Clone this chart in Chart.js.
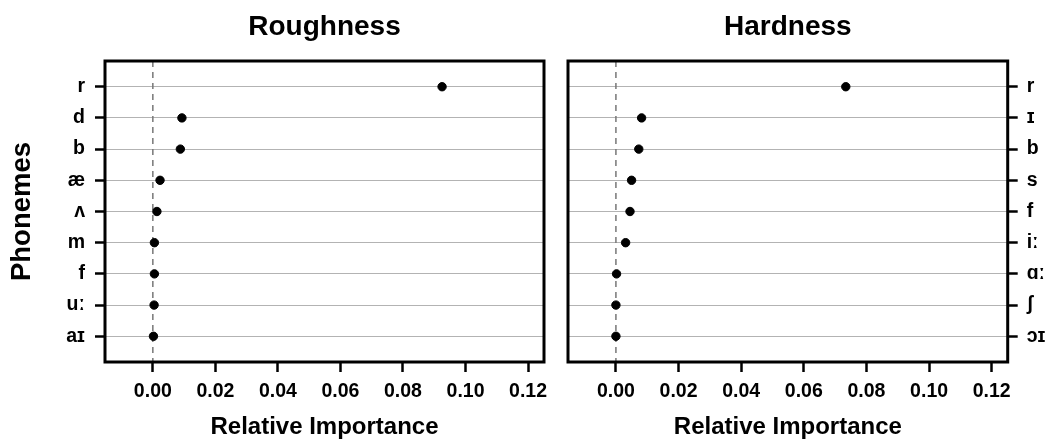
<!DOCTYPE html>
<html>
<head>
<meta charset="utf-8">
<script src="https://cdn.jsdelivr.net/npm/chart.js@4"></script>
<style>
  body { margin: 0; background: #fff; }
  #wrap { position: relative; width: 1048px; height: 439px; }
  canvas { position: absolute; top: 0; }
</style>
</head>
<body>
<div id="wrap">
  <canvas id="chart-roughness" width="560" height="439" style="left:0px"></canvas>
  <canvas id="chart-hardness" width="496" height="439" style="left:552px"></canvas>
</div>
<script>
const roughness_labels = ["r", "d", "b", "æ", "ʌ", "m", "f", "uː", "aɪ"];
const roughness_values = [0.0925, 0.0093, 0.0088, 0.0023, 0.0013, 0.0005, 0.0005, 0.0004, 0.0002];

const hardness_labels = ["r", "ɪ", "b", "s", "f", "iː", "ɑː", "ʃ", "ɔɪ"];
const hardness_values = [0.0734, 0.0082, 0.0073, 0.0050, 0.0045, 0.0031, 0.0002, 0.0000, 0.0000];

const x_ticks = [0, 0.02, 0.04, 0.06, 0.08, 0.10, 0.12];

const FONT = "'Liberation Sans', Arial, sans-serif";

// box round the panel + dashed line at zero
const panelPlugin = {
    id: "panel",
    beforeDatasetsDraw(chart) {
        const {ctx, chartArea} = chart;
        const x0 = chart.scales.x.getPixelForValue(0);
        ctx.save();
        ctx.strokeStyle = "#777777";
        ctx.lineWidth = 1.5;
        ctx.setLineDash([6, 5]);
        ctx.beginPath();
        ctx.moveTo(x0, chartArea.top);
        ctx.lineTo(x0, chartArea.bottom);
        ctx.stroke();
        ctx.restore();
    },
    afterDraw(chart) {
        const {ctx, chartArea} = chart;
        ctx.save();
        ctx.strokeStyle = "#000";
        ctx.lineWidth = 3;
        ctx.strokeRect(chartArea.left, chartArea.top, chartArea.right - chartArea.left, chartArea.bottom - chartArea.top);
        ctx.restore();
    }
};

function makePanel(canvas, title, labels, values, side) {
    const yWidth = side === "left" ? 105 : 40.3;
    return new Chart(canvas, {
        type: "scatter",
        data: {
            datasets: [{
                data: values.map((v, i) => ({x: v, y: i + 1})),
                backgroundColor: "#000",
                borderColor: "#000",
                pointRadius: 4.2,
                pointHoverRadius: 4.2
            }]
        },
        options: {
            responsive: false,
            animation: false,
            devicePixelRatio: 1,
            layout: {
                padding: side === "left" ? {left: 0, right: 16, top: 0, bottom: 0} : {left: 16, right: 0, top: 0, bottom: 0}
            },
            plugins: {
                legend: { display: false },
                tooltip: { enabled: false },
                title: {
                    display: true,
                    text: title,
                    fullSize: false,
                    color: "#000",
                    font: { family: FONT, size: 28, weight: "bold", lineHeight: 1.2 },
                    padding: { top: 10.7, bottom: 16.7 }
                }
            },
            scales: {
                x: {
                    type: "linear",
                    min: -0.0153,
                    max: 0.1251,
                    afterBuildTicks: s => { s.ticks = x_ticks.map(v => ({value: v})); },
                    afterFit: s => { s.height = 77; },
                    border: { display: false },
                    grid: {
                        drawOnChartArea: false,
                        drawTicks: true,
                        tickLength: 10,
                        tickColor: "#000",
                        tickWidth: 2.5
                    },
                    ticks: {
                        color: "#000",
                        padding: 8.3,
                        maxRotation: 0,
                        font: { family: FONT, size: 19.5, weight: "bold" },
                        callback: v => v.toFixed(2)
                    },
                    title: {
                        display: true,
                        text: "Relative Importance",
                        color: "#000",
                        font: { family: FONT, size: 24, weight: "bold", lineHeight: 1 },
                        padding: { top: 0, bottom: 0 }
                    }
                },
                y: {
                    type: "linear",
                    position: side,
                    reverse: true,
                    min: 0.175,
                    max: 9.825,
                    afterBuildTicks: s => { s.ticks = labels.map((_, i) => ({value: i + 1})); },
                    afterFit: s => { s.width = yWidth; },
                    border: { display: false },
                    grid: {
                        color: "#b3b3b3",
                        lineWidth: 1,
                        drawOnChartArea: true,
                        tickLength: 10,
                        tickColor: "#000",
                        tickWidth: 2.5
                    },
                    ticks: {
                        color: "#000",
                        padding: side === "left" ? 10 : 9,
                        font: { family: FONT, size: 19.5, weight: "bold" },
                        callback: v => labels[Math.round(v) - 1] || ""
                    },
                    title: {
                        display: side === "left",
                        text: "Phonemes",
                        color: "#000",
                        font: { family: FONT, size: 27.5, weight: "bold", lineHeight: 1 },
                        padding: { top: 8.2, bottom: 0 }
                    }
                }
            }
        },
        plugins: [panelPlugin]
    });
}

makePanel(document.getElementById("chart-roughness"), "Roughness", roughness_labels, roughness_values, "left");
makePanel(document.getElementById("chart-hardness"), "Hardness", hardness_labels, hardness_values, "right");
</script>
</body>
</html>
